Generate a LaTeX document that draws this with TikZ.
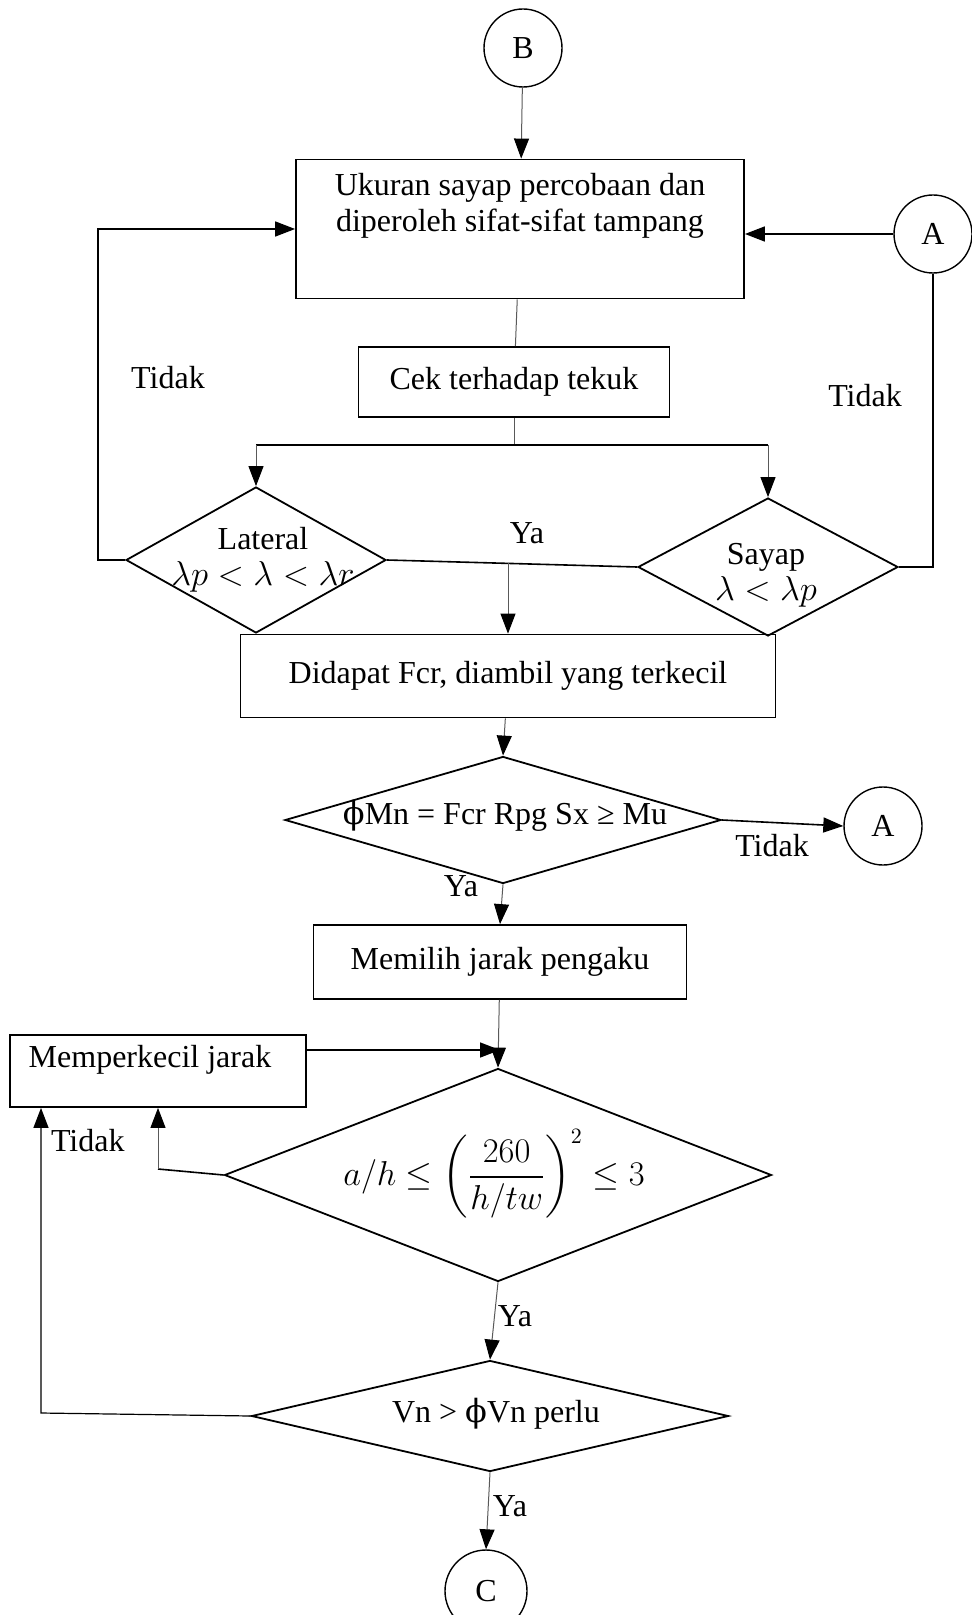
\documentclass[tikz,border=0pt]{standalone}
\usepackage{amsmath}
\usepackage{fontspec}
\setmainfont{Liberation Serif}
\newfontfamily\phifont{DejaVu Serif}
\newcommand{\fy}{{\phifont ϕ}}
\usetikzlibrary{arrows.meta,shapes.geometric}

\begin{document}
\begin{tikzpicture}[x=0.5pt,y=-0.5pt,
    font=\fontsize{16}{18}\selectfont,
    box/.style={draw,line width=0.9pt,inner sep=0pt,align=center},
    dec/.style={draw,diamond,line width=0.9pt,inner sep=0pt},
    conn/.style={draw,circle,line width=0.7pt,inner sep=0pt,minimum size=39pt},
    line/.style={line width=0.8pt},
    faint/.style={line width=0.5pt,black!65},
    arr/.style={-{Triangle[length=10pt,width=7.5pt,color=black]},line width=0.8pt}]

\useasboundingbox (0,0) rectangle (972,1615);

% connectors and boxes
\node[conn] (B) at (523,48) {B};
\node[box,minimum width=224pt,minimum height=69.5pt] (ukuran) at (520,229) {};
\node[align=center] (ukuran-t) at (520,206) {Ukuran sayap percobaan dan\\diperoleh sifat-sifat tampang};
\node[conn] (A1) at (933,234) {A};
\node[box,minimum width=155.5pt,minimum height=35pt] (cek) at (514,382) {Cek terhadap tekuk};

\node[dec,minimum width=130pt,minimum height=73pt] (lat) at (256,560) {};
\node[align=center] (lat-t) at (263,560) {Lateral\\$\lambda p<\lambda<\lambda r$};
\node[dec,minimum width=130pt,minimum height=69pt] (say) at (768,567) {};
\node[align=center] (say-t) at (766,575) {Sayap\\$\lambda<\lambda p$};

\node[box,minimum width=267.5pt,minimum height=41.5pt] (fcr) at (508,676) {Didapat Fcr, diambil yang terkecil};
\node[dec,minimum width=218pt,minimum height=63.5pt] (mn) at (503,820) {};
\node (mn-t) at (505,816) {\fy Mn = Fcr Rpg Sx ≥ Mu};
\node[conn] (A2) at (883,826) {A};

\node[box,minimum width=186.5pt,minimum height=37pt] (jarak) at (500,962) {Memilih jarak pengaku};
\node[box,minimum width=148pt,minimum height=36pt] (kecil) at (158,1071) {};
\node (kecil-t) at (150,1060) {Memperkecil jarak};

\node[dec,minimum width=273.5pt,minimum height=106.5pt] (ah) at (498,1175) {};
\node (ah-t) at (494,1174) {$a/h\leq\left(\dfrac{260}{h/tw}\right)^{2}\leq 3$};
\node[dec,minimum width=238.5pt,minimum height=55.5pt] (vn) at (490,1416) {};
\node (vn-t) at (496,1414) {Vn > \fy Vn perlu};
\node[conn,minimum height=41pt] (C) at (486,1591) {C};

% points on the loops
\coordinate (split) at (514,445);
\coordinate (ya) at (508,563);
\coordinate (loopT) at (98,229);
\coordinate (join) at (500,1050);
\coordinate (loopM) at (158,1169);
\coordinate (loopL) at (41,1413);

% flow
\draw[arr,faint] (B) -- (ukuran);
\draw[faint] (ukuran) -- (cek);
\draw[faint] (cek) -- (split);
\draw[line] (split -| lat.north) -- (split -| say.north);
\draw[arr,faint] (split -| lat.north) -- (lat.north);
\draw[arr,faint] (split -| say.north) -- (say.north);
\draw[line] (lat.east) -- (say.west);
\draw[arr,faint] (ya) -- (ya |- fcr.north);
\draw[arr,faint] (fcr) -- (mn.north);
\draw[arr,faint] (mn.south) -- (jarak.north);
\draw[arr,line] (mn.east) -- (A2.west);
\draw[arr,faint] (jarak) -- (ah.north);
\draw[arr,line] (kecil.east |- join) -- (join);
\draw[arr,faint] (ah.south) -- (vn.north);
\draw[arr,faint] (vn.south) -- (C.north);

% loops back
\draw[arr,line] (lat.west) -| (loopT) -- (ukuran.west);
\draw[arr,line] (A1.west) -- (A1.west -| ukuran.east);
\draw[line] (A1.south) |- (say.east);
\draw[line] (ah.west) -- (loopM);
\draw[arr,faint] (loopM) -- (kecil.south);
\draw[arr,line,line width=0.6pt] (vn.west) -- (loopL) -- (loopL |- kecil.south);

% labels
\node (t1) at (168,378) {Tidak};
\node (t2) at (865,396) {Tidak};
\node (y1) at (527,533) {Ya};
\node (t3) at (772,846) {Tidak};
\node (y2) at (461,886) {Ya};
\node[anchor=west] (t4) at (44,1141) {Tidak};
\node (y3) at (515,1316) {Ya};
\node (y4) at (510,1506) {Ya};

\end{tikzpicture}
\end{document}
